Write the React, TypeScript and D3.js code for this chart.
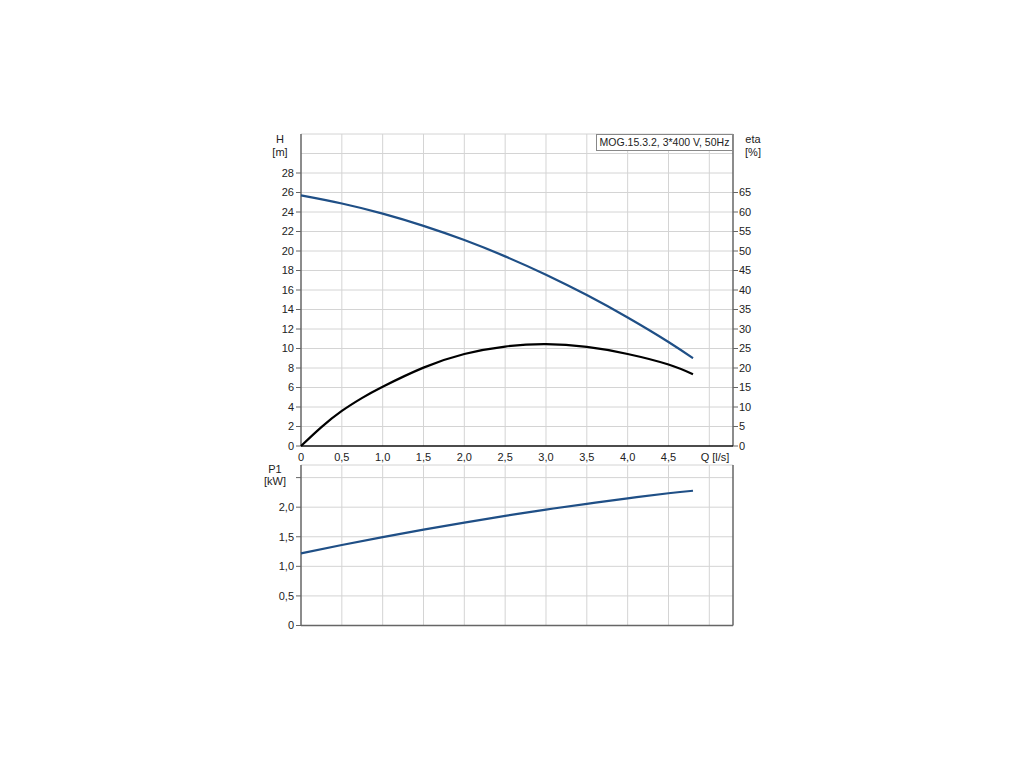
import React from "react";
import * as d3 from "d3";

const qValues = [0, 0.5, 1.0, 1.5, 2.0, 2.5, 3.0, 3.5, 4.0, 4.5, 4.8];
const headValues = [25.7, 24.87, 23.83, 22.58, 21.12, 19.45, 17.57, 15.48, 13.18, 10.67, 9.0];
const etaQValues = [0, 0.25, 0.5, 0.75, 1.0, 1.5, 2.0, 2.5, 3.0, 3.5, 4.0, 4.5, 4.8];
const etaValues = [0, 4.85, 9.0, 12.35, 15.2, 20.1, 23.6, 25.5, 26.1, 25.4, 23.6, 20.9, 18.4];
const p1Values = [1.22, 1.36, 1.494, 1.62, 1.74, 1.853, 1.959, 2.057, 2.15, 2.235, 2.278];

const xTicks = [0, 0.5, 1.0, 1.5, 2.0, 2.5, 3.0, 3.5, 4.0, 4.5];
const xGrid = [0.5, 1.0, 1.5, 2.0, 2.5, 3.0, 3.5, 4.0, 4.5, 5.0];
const hTicks = [0, 2, 4, 6, 8, 10, 12, 14, 16, 18, 20, 22, 24, 26, 28];
const hGrid = [2, 4, 6, 8, 10, 12, 14, 16, 18, 20, 22, 24, 26, 28, 30];
const etaTicks = [0, 5, 10, 15, 20, 25, 30, 35, 40, 45, 50, 55, 60, 65];
const pTicks = [0, 0.5, 1.0, 1.5, 2.0];
const pGrid = [0.5, 1.0, 1.5, 2.0, 2.5];

const title = "MOG.15.3.2, 3*400 V, 50Hz";

const fmt = (v: number) => (v === 0 ? "0" : v.toFixed(1).replace(".", ","));

export default function App() {
  const L = 301, R = 733;
  const T1 = 134, B1 = 446;
  const T2 = 465, B2 = 625.5;
  const x = d3.scaleLinear().domain([0, 5.29]).range([L, R]);
  const yH = d3.scaleLinear().domain([0, 32]).range([B1, T1]);
  const yEta = d3.scaleLinear().domain([0, 80]).range([B1, T1]);
  const yP = d3.scaleLinear().domain([0, 2.713]).range([B2, T2]);

  const idx = qValues.map((_, i) => i);
  const etaIdx = etaQValues.map((_, i) => i);
  const lineH = d3.line<number>().x(i => x(qValues[i])).y(i => yH(headValues[i])).curve(d3.curveNatural);
  const lineEta = d3.line<number>().x(i => x(etaQValues[i])).y(i => yEta(etaValues[i])).curve(d3.curveNatural);
  const lineP = d3.line<number>().x(i => x(qValues[i])).y(i => yP(p1Values[i])).curve(d3.curveNatural);

  const grid = "#d4d4d4";
  const axis = "#666";
  const txt = "#222";
  const font = "'Liberation Sans', Arial, sans-serif";
  const blue = "#1f4f86";

  return (
    <svg width={1024} height={768} style={{ position: "absolute", left: 0, top: 0, background: "#fff" }} fontFamily={font} fontSize={11}>
      {/* top chart grid */}
      {xGrid.map(v => (
        <line key={"gx1" + v} x1={x(v)} x2={x(v)} y1={T1} y2={B1} stroke={grid} strokeWidth={1} />
      ))}
      {hGrid.map(v => (
        <line key={"gy1" + v} x1={L} x2={R} y1={yH(v)} y2={yH(v)} stroke={grid} strokeWidth={1} />
      ))}
      <line x1={L} x2={R} y1={T1} y2={T1} stroke={grid} />
      {/* bottom chart grid */}
      {xGrid.map(v => (
        <line key={"gx2" + v} x1={x(v)} x2={x(v)} y1={T2} y2={B2} stroke={grid} strokeWidth={1} />
      ))}
      {pGrid.map(v => (
        <line key={"gy2" + v} x1={L} x2={R} y1={yP(v)} y2={yP(v)} stroke={grid} strokeWidth={1} />
      ))}
      <line x1={L} x2={R} y1={T2} y2={T2} stroke={grid} />

      {/* axes top */}
      <line x1={L} x2={L} y1={T1} y2={B1} stroke={axis} strokeWidth={1.5} />
      <line x1={R} x2={R} y1={T1} y2={B1} stroke={axis} strokeWidth={1.5} />
      <line x1={L} x2={R} y1={B1} y2={B1} stroke={"#111"} strokeWidth={1.5} />
      {hTicks.map(v => (
        <g key={"ht" + v}>
          <line x1={L - 5} x2={L} y1={yH(v)} y2={yH(v)} stroke={axis} />
          <text x={L - 7} y={yH(v)} dy="0.35em" textAnchor="end" fill={txt}>{v}</text>
        </g>
      ))}
      {etaTicks.map(v => (
        <g key={"et" + v}>
          <line x1={R} x2={R + 5} y1={yEta(v)} y2={yEta(v)} stroke={axis} />
          <text x={R + 6} y={yEta(v)} dy="0.35em" textAnchor="start" fill={txt}>{v}</text>
        </g>
      ))}
      {xTicks.map(v => (
        <text key={"xt" + v} x={x(v)} y={461} textAnchor="middle" fill={txt}>{fmt(v)}</text>
      ))}
      <text x={715} y={461} textAnchor="middle" fill={txt}>Q [l/s]</text>
      <text x={280} y={143} textAnchor="middle" fill={txt}>H</text>
      <text x={280} y={156} textAnchor="middle" fill={txt}>[m]</text>
      <text x={753} y={143} textAnchor="middle" fill={txt}>eta</text>
      <text x={753} y={156} textAnchor="middle" fill={txt}>[%]</text>

      {/* axes bottom */}
      <line x1={L} x2={L} y1={T2} y2={B2} stroke={axis} strokeWidth={1.5} />
      <line x1={R} x2={R} y1={T2} y2={B2} stroke={axis} strokeWidth={1.5} />
      <line x1={L} x2={R} y1={B2} y2={B2} stroke={axis} strokeWidth={1.5} />
      {pGrid.concat([0]).map(v => (
        <line key={"ptk" + v} x1={L - 5} x2={L} y1={yP(v)} y2={yP(v)} stroke={axis} />
      ))}
      {pTicks.map(v => (
        <text key={"pt" + v} x={L - 7} y={yP(v)} dy="0.35em" textAnchor="end" fill={txt}>{fmt(v)}</text>
      ))}
      <text x={275} y={473} textAnchor="middle" fill={txt}>P1</text>
      <text x={275} y={485} textAnchor="middle" fill={txt}>[kW]</text>

      {/* curves */}
      <path d={lineEta(etaIdx) || ""} fill="none" stroke="#000" strokeWidth={2.2} />
      <path d={lineH(idx) || ""} fill="none" stroke={blue} strokeWidth={2.2} />
      <path d={lineP(idx) || ""} fill="none" stroke={blue} strokeWidth={2.2} />

      {/* legend box */}
      <rect x={596.5} y={134.5} width={136} height={16} fill="#fff" stroke="#888" strokeWidth={1} />
      <text x={664.5} y={146} textAnchor="middle" fill={txt} fontSize={10.5}>{title}</text>
    </svg>
  );
}
